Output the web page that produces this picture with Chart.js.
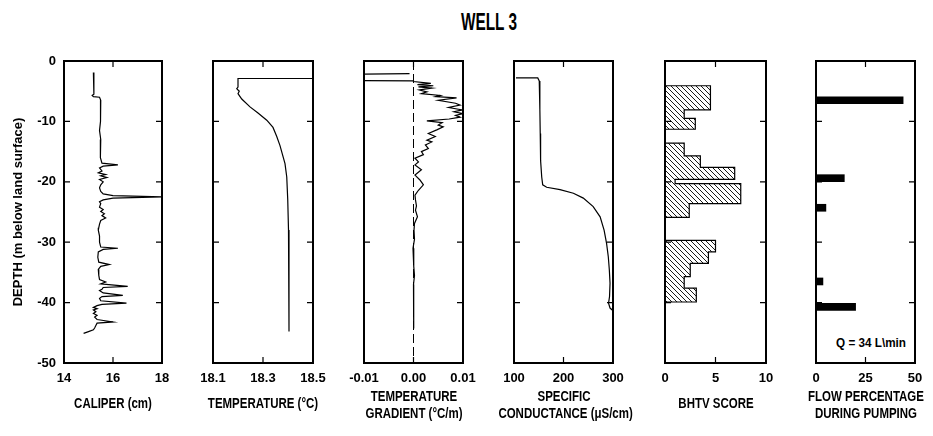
<!DOCTYPE html>
<html>
<head>
<meta charset="utf-8">
<script src="https://cdn.jsdelivr.net/npm/chart.js@4.4.0/dist/chart.umd.min.js"></script>
<style>
  body { margin: 0; background: #fff; width: 933px; height: 436px; overflow: hidden; position: relative;
         font-family: 'Liberation Sans', Arial, sans-serif; font-weight: bold; }
  canvas { position: absolute; top: 0; }
  #title { position: absolute; top: 9px; left: 389px; width: 200px; text-align: center; font-size: 24px;
           line-height: 26px; transform: scaleX(0.64); }
  #qlabel { position: absolute; top: 335px; left: 816px; width: 110px; text-align: center; font-size: 13px;
            transform: scaleX(0.9); }
  .xt { position: absolute; width: 160px; text-align: center; font-size: 14px; line-height: 17px;
        transform: scaleX(0.82); white-space: nowrap; }
</style>
</head>
<body>
<div id="title">WELL 3</div>
<div id="qlabel">Q = 34 L\min</div>
<script>
// depth ticks shared by every panel (m below land surface)
const depthTicks = [0, -10, -20, -30, -40, -50];

// caliper log
const caliperDepth = [-1.9, -5.5, -5.7, -5.9, -6.0, -6.5, -8, -10, -11.5, -13, -14.5, -16, -16.9, -17.2, -17.4, -17.7,
  -18.2, -18.5, -18.8, -19.0, -19.3, -19.6, -20.0, -20.5, -21.0, -21.6, -22.0, -22.3, -22.5, -22.7, -23.0, -23.3,
  -23.6, -24.2, -24.6, -24.9, -25.3, -25.6, -26.0, -26.4, -27.0, -27.6, -28.0, -29, -30.0, -30.8, -31.0, -31.2,
  -31.6, -32.5, -33.3, -33.7, -34.0, -34.5, -35.5, -36.2, -36.6, -36.9, -37.3, -37.5, -37.8, -38.0, -38.4, -38.8,
  -39.0, -39.3, -39.7, -40.1, -40.3, -40.5, -40.8, -41.0, -41.2, -41.5, -41.8, -42.1, -42.4, -42.8, -43.2, -43.4,
  -43.8, -44.2, -44.5, -44.8, -45.1];
const caliperCm = [15.2, 15.22, 15.15, 15.2, 15.45, 15.5, 15.48, 15.5, 15.45, 15.5, 15.47, 15.5, 15.55, 16.2, 15.6, 15.45,
  15.55, 15.4, 15.7, 15.5, 15.75, 15.45, 15.6, 15.5, 15.45, 15.5, 15.6, 16.0, 18.0, 16.0, 15.6, 15.45,
  15.5, 15.45, 15.6, 15.5, 15.65, 15.55, 15.7, 15.5, 15.45, 15.42, 15.4, 15.45, 15.45, 15.5, 16.2, 15.6,
  15.4, 15.38, 15.42, 15.85, 15.5, 15.4, 15.42, 15.45, 15.7, 15.5, 16.6, 15.6, 15.55, 15.45, 15.6, 16.4,
  15.55, 15.45, 15.5, 16.55, 15.55, 15.35, 15.2, 15.35, 15.2, 15.3, 15.2, 15.35, 15.25, 15.35, 16.0, 15.35,
  15.3, 15.25, 15.2, 15.0, 14.8];
const caliperTicks = [14, 16, 18];

// temperature log
const tempDepth = [-2.9, -2.9, -4.3, -4.6, -5.0, -5.4, -6.3, -7.6, -8.6, -9.8, -11.0, -12.5, -14.0, -15.5, -17, -19.2, -23, -28, -35, -44.8];
const tempC = [18.52, 18.2, 18.2, 18.195, 18.205, 18.2, 18.215, 18.248, 18.28, 18.315, 18.34, 18.355, 18.368, 18.378, 18.388, 18.395, 18.399, 18.402, 18.404, 18.404];
const tempTicks = [18.1, 18.3, 18.5];

// temperature gradient log
const gradDepth = [-2.1, -2.3, -3.1, -3.3, -3.4, -3.7, -3.9, -4.1, -4.3, -4.5, -4.8, -5.1, -5.4, -5.7, -5.9, -6.1, -6.5,
  -7.0, -7.3, -7.7, -8.1, -8.4, -8.7, -9.0, -9.3, -9.6, -9.9, -10.2, -10.6, -10.9, -11.4, -12.0, -12.5, -13.1, -13.4,
  -13.9, -14.5, -15.0, -15.5, -16.1, -16.7, -17.2, -18.0, -18.9, -19.7, -20.5, -21.4, -22.2, -23.0, -24.0, -24.7,
  -25.8, -26.9, -28, -29.5, -31, -32.5, -34, -35.5, -37, -38.5, -40, -41.5, -43, -44.3];
const gradCperM = [-0.0008, -0.03, -0.03, 0.0, 0.0, 0.0035, 0.0008, 0.004, 0.001, 0.0037, 0.0012, 0.0027, 0.0016, 0.0054, 0.0045, 0.0087, 0.005,
  0.0085, 0.0094, 0.0071, 0.0099, 0.0082, 0.0100, 0.0085, 0.0094, 0.0072, 0.0027, 0.0058, 0.005, 0.006, 0.0047, 0.003, 0.0044, 0.0027, 0.0037,
  0.0024, 0.003, 0.0016, 0.002, 0.0003, 0.001, 0.0003, 0.0016, 0.0003, 0.0013, 0.002, 0.001, 0.0003, 0.0004, 0.0006, 0.0004,
  0.0008, 0.0002, 0.0001, 0.0002, -0.0001, 0.0001, 0.0, 0.0002, 0.0, 0.0001, 0.0, 0.0001, 0.0, 0.0];
const gradZeroDepth = [0, -50];
const gradTicks = [-0.01, 0.0, 0.01];

// specific conductance log
const condDepth = [-2.8, -2.8, -3.3, -5, -8, -12, -14.7, -16.5, -19.2, -20.5, -20.9, -21.3, -21.9, -22.7, -24.1, -25.8, -28.0, -30.2, -32.4, -34.6, -36.8, -39.0, -40.1, -40.9, -41.4];
const condUS = [104, 148, 151, 152.5, 152, 153, 153.5, 154, 156, 158, 166, 193, 220, 240, 260, 274, 282, 287, 290.5, 292.6, 294, 293, 291, 294, 301];
const condTicks = [100, 200, 300];

// borehole televiewer score, by depth interval
const bhtvTop = [-4.1, -8.1, -9.5, -13.6, -15.7, -17.6, -19.6, -20.3, -23.6, -29.7, -31.6, -33.5, -35.7, -37.6];
const bhtvBottom = [-8.1, -9.5, -11.3, -15.7, -17.6, -19.6, -20.3, -23.6, -25.9, -31.6, -33.5, -35.7, -37.6, -39.9];
const bhtvScore = [4.5, 1.9, 3.0, 1.9, 3.5, 6.9, 1.0, 7.5, 2.4, 5.0, 4.3, 2.5, 1.9, 3.1];
const bhtvTicks = [0, 5, 10];

// flow during pumping
const flowDepth = [-6.5, -19.4, -24.3, -36.5, -40.7];
const flowPct = [44, 14.3, 5, 3.5, 20];
const flowTicks = [0, 25, 50];

// axis titles under each panel
const xTitles = [['CALIPER (cm)'], ['TEMPERATURE (°C)'], ['TEMPERATURE', 'GRADIENT (°C/m)'],
  ['SPECIFIC', 'CONDUCTANCE (μS/cm)'], ['BHTV SCORE'], ['FLOW PERCENTAGE', 'DURING PUMPING']];

const panelLeft = [64, 213, 364, 514, 665, 816];
const panelRight = [162, 313, 463, 613, 766, 915];

Chart.defaults.font.family = "'Liberation Sans', Arial, sans-serif";
Chart.defaults.font.weight = 'bold';
Chart.defaults.font.size = 13;
Chart.defaults.color = '#000';

function pts(xs, ys) { return xs.map((v, i) => ({ x: v, y: ys[i] })); }

// step outline of the BHTV histogram, closed back to 0 between blocks
function bhtvPath() {
  const out = [];
  for (let i = 0; i < bhtvScore.length; i++) {
    if (i === 0 || bhtvTop[i] !== bhtvBottom[i - 1]) out.push({ x: 0, y: bhtvTop[i] });
    out.push({ x: bhtvScore[i], y: bhtvTop[i] });
    out.push({ x: bhtvScore[i], y: bhtvBottom[i] });
    if (i === bhtvScore.length - 1 || bhtvTop[i + 1] !== bhtvBottom[i]) out.push({ x: 0, y: bhtvBottom[i] });
  }
  return out;
}

function hatch() {
  const c = document.createElement('canvas');
  c.width = 5; c.height = 5;
  const g = c.getContext('2d');
  g.strokeStyle = '#000';
  g.lineWidth = 0.9;
  g.beginPath();
  g.moveTo(0, 0); g.lineTo(5, 5);
  g.moveTo(-1, 4); g.lineTo(1, 6);
  g.moveTo(4, -1); g.lineTo(6, 1);
  g.stroke();
  return g.createPattern(c, 'repeat');
}

// box frame with short inward ticks
const frameTicks = {
  id: 'frameTicks',
  afterDatasetsDraw(chart) {
    const { ctx, chartArea: a, scales: { x, y } } = chart;
    ctx.save();
    ctx.strokeStyle = '#000';
    ctx.lineWidth = 1.2;
    ctx.beginPath();
    y.ticks.forEach(t => {
      const py = y.getPixelForValue(t.value);
      if (py <= a.top + 2 || py >= a.bottom - 2) return;
      ctx.moveTo(a.left, py); ctx.lineTo(a.left + 6, py);
      ctx.moveTo(a.right, py); ctx.lineTo(a.right - 6, py);
    });
    x.ticks.forEach(t => {
      const px = x.getPixelForValue(t.value);
      if (px <= a.left + 2 || px >= a.right - 2) return;
      ctx.moveTo(px, a.top); ctx.lineTo(px, a.top + 6);
      ctx.moveTo(px, a.bottom); ctx.lineTo(px, a.bottom - 6);
    });
    ctx.stroke();
    ctx.lineWidth = 2;
    ctx.strokeRect(a.left, a.top, a.right - a.left, a.bottom - a.top);
    ctx.restore();
  }
};

const lineStyle = { showLine: true, pointRadius: 0, borderColor: '#000', borderWidth: 1.2, fill: false, tension: 0 };

function makePanel(i, type, datasets, xMin, xMax, xTicks, fmt, extra) {
  const first = i === 0;
  const padL = first ? 64 : 30, padR = 30;
  const cv = document.createElement('canvas');
  cv.width = panelRight[i] - panelLeft[i] + padL + padR;
  cv.height = 436;
  cv.style.left = (panelLeft[i] - padL) + 'px';
  document.body.appendChild(cv);

  const t = document.createElement('div');
  t.className = 'xt';
  t.innerHTML = xTitles[i].join('<br>');
  t.style.left = ((panelLeft[i] + panelRight[i]) / 2 - 80) + 'px';
  t.style.top = (xTitles[i].length > 1 ? 388 : 395) + 'px';
  document.body.appendChild(t);

  new Chart(cv, {
    type: type,
    data: { datasets: datasets },
    options: Object.assign({
      responsive: false,
      animation: false,
      layout: { padding: { top: 61, bottom: 0, left: first ? 0 : padL, right: padR } },
      plugins: { legend: { display: false }, tooltip: { enabled: false } },
      scales: {
        x: {
          type: 'linear', min: xMin, max: xMax, offset: false,
          grid: { display: false, drawTicks: false, offset: false }, border: { display: false },
          afterBuildTicks: s => { s.ticks = xTicks.map(v => ({ value: v })); },
          afterFit: s => { s.height = 73; },
          ticks: { padding: 8, autoSkip: false, maxRotation: 0, callback: v => fmt(v) }
        },
        y: {
          type: 'linear', min: -50, max: 0, offset: false, display: first,
          grid: { display: false, drawTicks: false, offset: false }, border: { display: false },
          afterBuildTicks: s => { s.ticks = depthTicks.map(v => ({ value: v })); },
          afterFit: s => { if (first) s.width = 64; },
          ticks: { padding: 8, callback: v => String(v) },
          title: { display: first, text: 'DEPTH (m below land surface)', font: { size: 13 }, padding: { top: 11, bottom: 0 } }
        }
      }
    }, extra || {}),
    plugins: [frameTicks]
  });
}

makePanel(0, 'scatter', [Object.assign({ data: pts(caliperCm, caliperDepth) }, lineStyle)],
  14, 18, caliperTicks, v => String(v));

makePanel(1, 'scatter', [Object.assign({ data: pts(tempC, tempDepth) }, lineStyle)],
  18.1, 18.5, tempTicks, v => v.toFixed(1));

makePanel(2, 'scatter', [
  Object.assign({ data: pts(gradCperM, gradDepth) }, lineStyle),
  Object.assign({ data: pts(gradZeroDepth.map(() => 0), gradZeroDepth) }, lineStyle, { borderWidth: 1, borderDash: [9, 4] })
], -0.01, 0.01, gradTicks, v => v.toFixed(2));

makePanel(3, 'scatter', [Object.assign({ data: pts(condUS, condDepth) }, lineStyle)],
  100, 300, condTicks, v => String(v));

makePanel(4, 'line', [{
  data: bhtvPath(), fill: { value: 0 }, backgroundColor: hatch(),
  borderColor: '#000', borderWidth: 1.2, pointRadius: 0, tension: 0
}], 0, 10, bhtvTicks, v => String(v), { indexAxis: 'y' });

makePanel(5, 'bar', [{
  data: pts(flowPct, flowDepth), backgroundColor: '#000', borderWidth: 0, barThickness: 7
}], 0, 50, flowTicks, v => String(v), { indexAxis: 'y' });
</script>
</body>
</html>
